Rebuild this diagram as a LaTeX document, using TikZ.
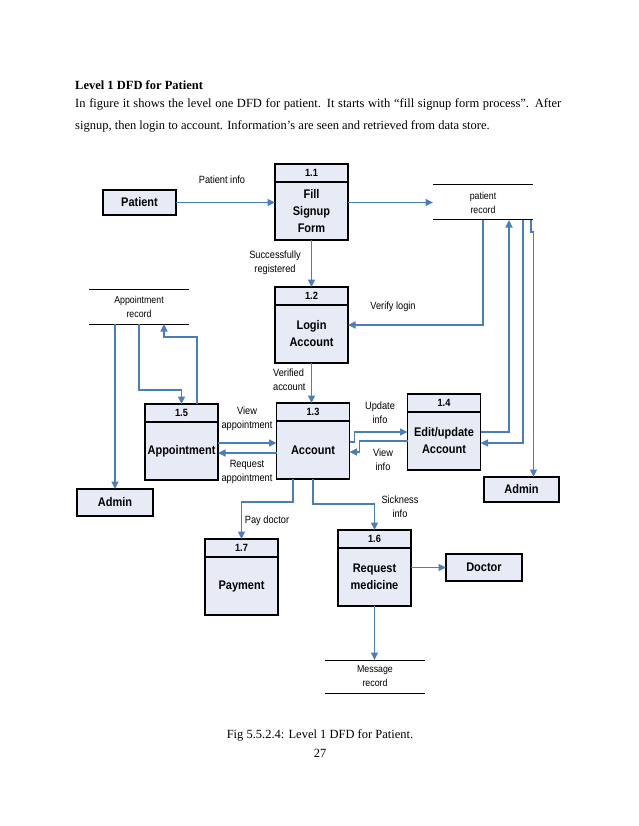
\documentclass[tikz,border=0pt]{standalone}
\usepackage{fontspec}
\setmainfont{Liberation Serif}
\setsansfont{Liberation Sans}
\newfontfamily\narrowsans[FakeStretch=0.88]{Liberation Sans}
\usetikzlibrary{arrows.meta,positioning}
\definecolor{boxfill}{RGB}{230,235,246}
\definecolor{flowblue}{RGB}{74,126,187}
\tikzset{flow/.style = {draw=flowblue, line width=1.6pt, -{Triangle[length=7.5pt,width=7pt]}}}
\tikzset{entity/.style = {draw, line width=1.8pt, fill=boxfill, inner sep=0, outer sep=0,
                          font=\narrowsans\bfseries\fontsize{12.5}{14}\selectfont}}
\tikzset{prochead/.style = {draw, line width=1.8pt, fill=boxfill, minimum width=73pt, minimum height=18pt,
                            inner sep=0, outer sep=0, font=\narrowsans\bfseries\fontsize{10.5}{11}\selectfont}}
\tikzset{procbody/.style = {draw, line width=1.8pt, fill=boxfill, minimum width=73pt, minimum height=58pt,
                            inner sep=0, outer sep=0, align=center,
                            font=\narrowsans\bfseries\fontsize{12.5}{17}\selectfont}}
\tikzset{store/.style = {minimum width=100pt, minimum height=35pt, inner sep=0, outer sep=0, align=center,
                         font=\narrowsans\fontsize{10}{14}\selectfont}}
\tikzset{lbl/.style = {align=center, inner sep=0, font=\narrowsans\fontsize{10.5}{14}\selectfont}}
\tikzset{para/.style = {inner sep=0, font=\fontsize{12.5}{14}\selectfont}}

\begin{document}
\begin{tikzpicture}[x=1pt, y=-1pt]
    \useasboundingbox (0,0) rectangle (638,826);
    % text of the page
    \node [para, anchor = base west, font=\fontsize{12.5}{14}\selectfont\bfseries] (title) at (75,90) {Level 1 DFD for Patient};
    \node [para, anchor = base west] (line1) at (75,108)
        {\makebox[486pt][s]{In figure it shows the level one DFD for patient. It starts with “fill signup form process”. After}};
    \node [para, anchor = base west] (line2) at (75,130)
        {signup, then login to account. Information’s are seen and retrieved from data store.};
    \node [para, anchor = base] (caption) at (320,738) {Fig 5.5.2.4: Level 1 DFD for Patient.};
    \node [para, anchor = base] (pageno) at (320,757) {27};

    % external entities
    \node [entity, minimum width = 73pt, minimum height = 25pt] (patient) at (139.5,202.5) {Patient};
    \node [entity, minimum width = 76pt, minimum height = 27pt] (adminL) at (115,502.5) {Admin};
    \node [entity, minimum width = 75pt, minimum height = 25pt] (adminR) at (521.5,489.5) {Admin};
    \node [entity, minimum width = 76pt, minimum height = 27pt] (doctor) at (484,567.5) {Doctor};

    % processes
    \node [prochead] (h11) at (311.5,173) {1.1};
    \node [procbody, below = 0pt of h11] (p11) {Fill\\Signup\\Form};
    \node [prochead] (h12) at (311.5,296) {1.2};
    \node [procbody, below = 0pt of h12] (p12) {Login\\Account};
    \node [prochead] (h13) at (313,412) {1.3};
    \node [procbody, below = 0pt of h13] (p13) {Account};
    \node [prochead] (h14) at (444,403) {1.4};
    \node [procbody, below = 0pt of h14] (p14) {Edit/update\\Account};
    \node [prochead] (h15) at (181.5,413) {1.5};
    \node [procbody, below = 0pt of h15] (p15) {Appointment};
    \node [prochead] (h16) at (374.5,539) {1.6};
    \node [procbody, below = 0pt of h16] (p16) {Request\\medicine};
    \node [prochead] (h17) at (241.5,548) {1.7};
    \node [procbody, below = 0pt of h17] (p17) {Payment};

    % data stores
    \node [store] (patrec) at (483,202.5) {patient\\record};
    \node [store] (apprec) at (139,306.5) {Appointment\\record};
    \node [store, minimum height = 33pt] (msgrec) at (375,676.5) {Message\\record};
    \foreach \s in {patrec, apprec, msgrec}
        \draw [line width = 1pt] (\s.north west) -- (\s.north east) (\s.south west) -- (\s.south east);

    % flows
    \draw [flow] (patient.east) -- (patient.east -| p11.west);
    \draw [flow] (p11.east |- patient.east) -- (patrec.west |- patient.east);
    \draw [flow] (p11.south) -- (h12.north);
    \draw [flow] (p12.south) -- (p12.south |- h13.north);
    \draw [flow] (patrec.south) |- ([yshift=9pt]p12.east);
    \draw [flow] ([yshift=9pt]p14.east) -| ([xshift=26pt]patrec.south);
    \draw [flow] ([xshift=40pt]patrec.south) |- ([yshift=-2pt]p14.east);
    \draw [flow] ([xshift=48pt]patrec.south) -- ++(0,12) -| ([xshift=12pt]adminR.north);
    \draw [flow] ([yshift=8pt]p13.east) -- ++(5,0) |- ([yshift=9pt]p14.west);
    \draw [flow] (p14.west) -| ([xshift=10pt,yshift=-2pt]p13.east) -- ([yshift=-2pt]p13.east);
    \draw [flow] ([yshift=8pt]p15.east) -- ([yshift=8pt]p15.east -| p13.west);
    \draw [flow] ([yshift=-3pt]p13.west) -- ([yshift=-3pt]p13.west -| p15.east);
    \draw [flow] (apprec.south) -- ++(0,66) -| (h15.north);
    \draw [flow] ([xshift=15.5pt]h15.north) -- ++(0,-67) -| ([xshift=25pt]apprec.south);
    \draw [flow] (adminL.north |- apprec.south) -- (adminL.north);
    \draw [flow] ([xshift=-20pt]p13.south) -- ++(0,23) -| (h17.north);
    \draw [flow] (p13.south) -- ++(0,25) -| (h16.north);
    \draw [flow] (p16.east |- doctor.west) -- (doctor.west);
    \draw [flow] (p16.south) -- (p16.south |- msgrec.north);

    % flow labels
    \node [lbl] (lpinfo) at (222,180) {Patient info};
    \node [lbl] (lsucc) at (275,263) {Successfully\\registered};
    \node [lbl, align = left, anchor = west] (lverif) at (273,380) {Verified\\account};
    \node [lbl] (lvlogin) at (393,307) {Verify login};
    \node [lbl] (lvapp) at (247,419) {View\\appointment};
    \node [lbl] (lrapp) at (247,472) {Request\\appointment};
    \node [lbl] (lupd) at (380,413) {Update\\info};
    \node [lbl] (lvinfo) at (383,460) {View\\info};
    \node [lbl] (lsick) at (400,507) {Sickness\\info};
    \node [lbl] (lpay) at (267,521) {Pay doctor};
  \end{tikzpicture}
\end{document}
